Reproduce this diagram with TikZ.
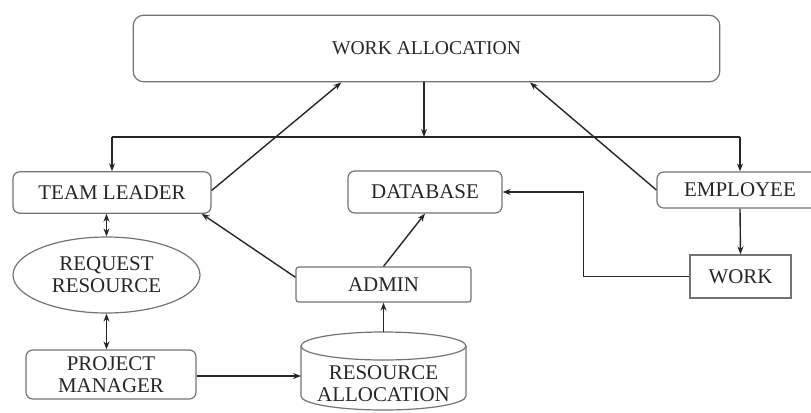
\documentclass[tikz,border=0pt]{standalone}
\usepackage{fontspec}
\setmainfont{Liberation Serif}
\usetikzlibrary{arrows.meta,calc,shapes.geometric}

\tikzset{every picture/.style={line width=0.5pt}}
\tikzset{
  blk/.style={draw=black!55, line width=0.9pt, inner sep=0pt, align=center, text=black!85,
    font=\fontsize{15.7}{16.5}\selectfont},
  rbox/.style={blk, rounded corners=5pt},
  sbox/.style={blk, rounded corners=2pt},
  arr/.style={-{Stealth[length=6pt,width=4.5pt]}, line width=1.05pt, black!85},
  dbl/.style={{Stealth[length=6pt,width=4.5pt]}-{Stealth[length=6pt,width=4.5pt]}, line width=1.05pt, black!85},
  cyl/.style={draw=black!55, line width=0.9pt},
}

\begin{document}
\begin{tikzpicture}[x=0.75pt,y=0.75pt,yscale=-1,xscale=1]
\useasboundingbox (0,0) rectangle (811,412);

%Shape: Rounded Rect [id:wa]
\node [rbox, minimum width=440pt, minimum height=50pt, rounded corners=8pt,
  font=\fontsize{14.7}{16}\selectfont] (wa) at (426.5,48.5) {WORK ALLOCATION};
%Shape: Rounded Rect [id:tl]
\node [rbox, minimum width=148.5pt, minimum height=31pt] (tl) at (112,192.5) {TEAM LEADER};
%Shape: Rounded Rect [id:db]
\node [rbox, minimum width=115.5pt, minimum height=31.5pt] (db) at (425,192) {DATABASE};
%Shape: Rounded Rect [id:emp]
\node [rbox, minimum width=124.5pt, minimum height=27pt] (emp) at (740,190) {EMPLOYEE};
%Shape: Rectangle [id:work]
\node [blk, minimum width=75.75pt, minimum height=32.25pt] (work) at (740.5,276.5) {WORK};
%Shape: Rounded Rect [id:adm]
\node [sbox, minimum width=131.25pt, minimum height=26.25pt] (adm) at (383.5,284.5) {ADMIN};
%Shape: Ellipse [id:req]
\node [blk, ellipse, minimum width=140.25pt, minimum height=57pt] (req) at (106.5,275) {REQUEST\\RESOURCE};
%Shape: Rounded Rect [id:pm]
\node [rbox, minimum width=127.5pt, minimum height=36.75pt] (pm) at (111,374.5) {PROJECT\\MANAGER};

%Shape: Can [id:ralloc]
\draw [cyl] (301,346) -- (301,396) arc [start angle=180, end angle=0, x radius=82.5, y radius=14] -- (466,346) ;
\draw [cyl] (383.5,346) ellipse [x radius=82.5, y radius=14] ;
% Text Node
\node [blk, draw=none] (ralloc) at (383.5,384) {RESOURCE\\ALLOCATION};
\coordinate (ratop) at (383.5,332);
\coordinate (raleft) at (301,376);

% bus under work allocation
\coordinate (busL) at (112,137);
\coordinate (busR) at (740,137);

%Straight Lines
\draw [arr] (wa.south -| 424,0) -- (busL -| 424,0) ;
\draw [line width=1.05pt, black!85] (busL) -- (busR) ;
\draw [arr] (busL) -- (tl.north) ;
\draw [arr] (busR) -- (emp.north) ;
\draw [arr] ($(tl.east)+(0,-2)$) -- ($(wa.south west)!0.355!(wa.south east)$) ;
\draw [arr] (emp.west) -- ($(wa.south west)!0.676!(wa.south east)$) ;
\draw [arr] (emp.south) -- (work.north) ;
\draw [arr] (work.west) -- ++(-106,0) |- (db.east) ;
\draw [arr] ($(adm.north west)!0.3!(adm.south west)$) -- ($(tl.south west)!0.95!(tl.south east)$) ;
\draw [arr] (adm.north) -- ($(db.south west)!0.5!(db.south east)$) ;
\draw [arr] (ratop) -- (adm.south) ;
\draw [dbl] (req.north |- tl.south) -- (req.north) ;
\draw [dbl] (req.south) -- (req.south |- pm.north) ;
\draw [arr] (pm.east |- raleft) -- (raleft) ;

\end{tikzpicture}
\end{document}
